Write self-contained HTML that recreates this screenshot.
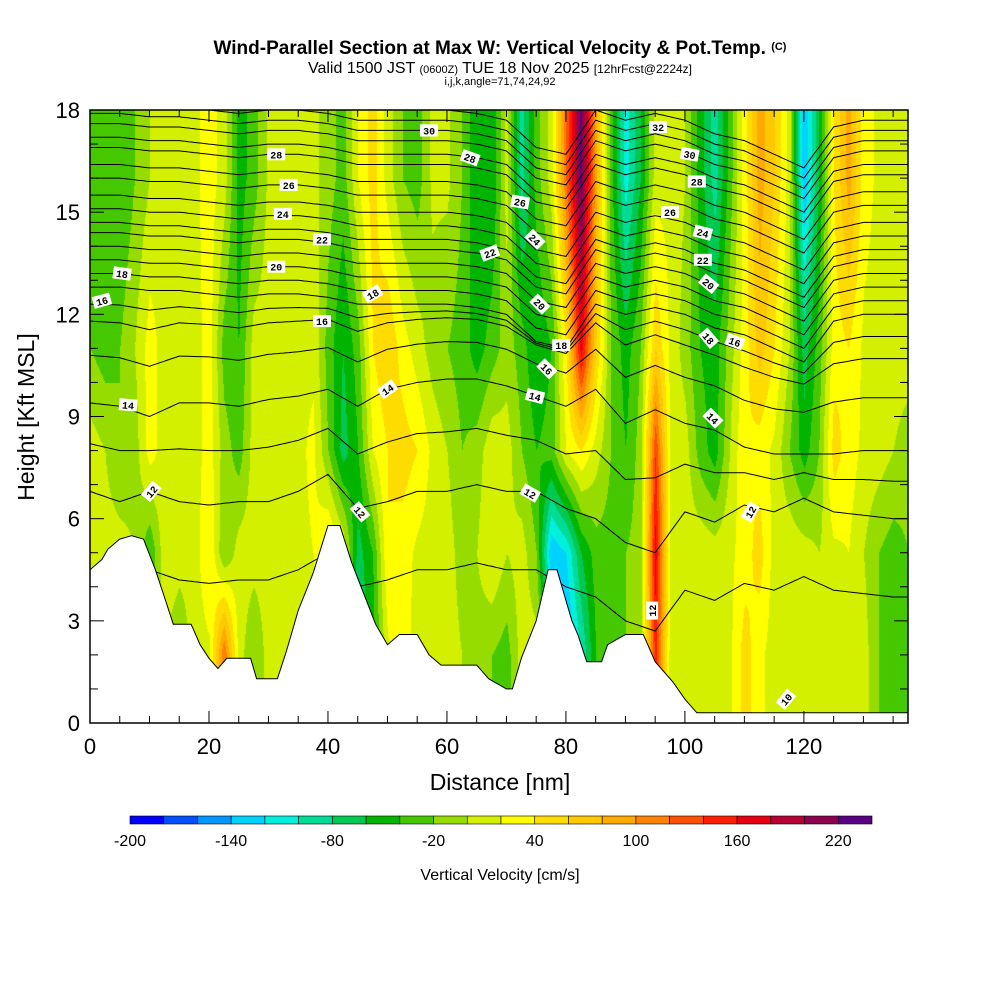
<!DOCTYPE html>
<html><head><meta charset="utf-8">
<style>
html,body{margin:0;padding:0;background:#fff;}
#wrap{position:relative;width:1000px;height:1000px;overflow:hidden;font-family:"Liberation Sans",sans-serif;}
.t{position:absolute;white-space:nowrap;color:#000;}
</style></head>
<body>
<div id="wrap">
<div class="t" style="left:0;width:1000px;top:38px;text-align:center;font-weight:bold;font-size:19px;">Wind-Parallel Section at Max W: Vertical Velocity &amp; Pot.Temp. <span style="font-size:11px;vertical-align:4px">(C)</span></div>
<div class="t" style="left:0;width:1000px;top:60px;text-align:center;font-size:16px;">Valid 1500 JST <span style="font-size:11px">(0600Z)</span> TUE 18 Nov 2025 <span style="font-size:12px">[12hrFcst@2224z]</span></div>
<div class="t" style="left:0;width:1000px;top:76px;text-align:center;font-size:11px;">i,j,k,angle=71,74,24,92</div>
<canvas id="field" width="818" height="613" style="position:absolute;left:90px;top:110px;"></canvas>
<svg id="svg" width="1000" height="1000" style="position:absolute;left:0;top:0;"></svg>
</div>
<script>
// ---- data ----
const gridNm = [0,2.5,5,7.5,10,12.5,15,17.5,20,22.5,25,27.5,30,32.5,35,37.5,40,42.5,45,47.5,50,52.5,55,57.5,60,62.5,65,67.5,70,72.5,75,77.5,80,82.5,85,87.5,90,92.5,95,97.5,100,102.5,105,107.5,110,112.5,115,117.5,120,122.5,125,127.5,130,132.5,135,137.5];
const gridKft = [2,5,8,11,16];
const w2 = [10,10,10,0,-20,0,-20,10,15,120,10,-20,10,10,10,10,15,0,-80,-50,15,30,10,15,10,0,-10,-20,-30,10,10,-60,-150,-100,-40,-30,-20,-10,150,10,10,15,10,15,50,25,10,15,15,10,10,15,10,-20,-40,-20];
const w5 = [0,10,10,0,-40,15,10,10,40,-20,10,10,10,10,15,20,50,20,-70,-40,40,30,15,10,10,-10,0,20,0,10,-20,-140,-120,-60,-30,-30,-20,-10,170,15,10,15,10,15,30,50,10,15,10,0,15,20,0,-20,-30,-20];
const w8 = [10,0,-20,-10,30,10,5,10,30,-10,-30,10,5,10,15,25,-20,-70,-40,20,40,50,40,15,0,-20,-10,15,10,-20,-40,-30,20,40,10,-20,-40,-10,140,15,10,-30,-50,0,40,30,15,-20,-50,-20,50,30,15,10,0,-10];
const w11 = [-20,-30,-20,0,30,10,5,10,30,-30,-40,10,10,10,15,15,-30,-60,-30,40,60,30,10,-10,-20,-30,-50,-30,-10,-30,-60,-40,40,170,60,-20,-50,-20,60,15,-10,-40,-50,-10,30,70,40,0,-70,-30,30,40,15,10,10,10];
const w16 = [-30,-40,-40,-20,0,10,10,15,30,10,-50,-30,5,10,10,5,-10,-30,20,50,10,-20,-30,5,5,-20,-60,-60,10,-90,-30,10,120,230,90,-30,-110,-60,10,15,0,-50,-90,-30,30,90,60,10,-140,-60,40,90,30,15,15,10];
const cbLevels = [-200,-180,-160,-140,-120,-100,-80,-60,-40,-20,0,20,40,60,80,100,120,140,160,180,200,220,240];
const cbColors = ["#0000ff","#0050ff","#0096ff","#00d2ff","#00f0dc","#00dc96","#00c850","#00b400","#46c800","#96dc00","#d2f000","#ffff00","#ffdc00","#ffc800","#ffaa00","#ff8200","#ff5000","#ff1e00","#e60014","#b40032","#8c0050","#5a0082"];
const cbTickLabels = [-200,-140,-80,-20,40,100,160,220];
const terrNm  = [0,2,3,5,7,9,11,12.5,14,17,18.5,20,21.5,23,25,27,28,30,31.5,33,35,37.5,40,42,44,46,48,50,52,55,57,59,62,65,67,70,71,72.5,75,77,78.5,80,81,82,83.5,86,87,90,93,95,96,98,100,102,137.5];
const terrKft = [4.5,4.8,5.1,5.4,5.5,5.4,4.5,3.7,2.9,2.9,2.3,1.9,1.6,1.9,1.9,1.9,1.3,1.3,1.3,2.1,3.3,4.4,5.8,5.8,4.7,3.8,2.9,2.3,2.6,2.6,2.0,1.7,1.7,1.7,1.3,1.0,1.0,1.9,3.0,4.5,4.5,3.6,3.0,2.6,1.8,1.8,2.3,2.6,2.6,1.8,1.6,1.2,0.7,0.3,0.3];
const thetaLevels = [11,12,13,14,15,16,17,18,19,20,21,22,23,24,25,26,27,28,29,30,31,32,33];
const thetaBase   = [4.5,6.8,8.3,9.6,10.9,11.8,12.2,12.6,13.0,13.4,13.8,14.2,14.5,14.9,15.3,15.8,16.2,16.7,17.0,17.4,17.7,18.0,18.3];
const dispNm  = [0,5,10,15,20,25,30,35,40,45,50,55,60,65,70,75,80,85,90,95,100,105,110,115,120,125,130,135,137.5];
const dispLow = [0,-0.3,0,-0.3,-0.4,-0.3,-0.3,0,0.5,-0.5,-0.3,0,0,0.2,0,0,-0.5,-0.8,-1.5,-1.8,-0.6,-0.9,-0.4,-0.6,-0.2,-0.6,-0.7,-0.8,-0.8];
const dispMid = [-0.2,-0.3,-0.6,-0.2,-0.2,-0.3,-0.1,0,0.2,-0.3,0.2,0.4,0.5,0.5,0.3,0,-0.3,0.2,-0.8,-0.4,-0.8,-1.0,-1.5,-1.7,-1.7,-1.7,-1.6,-1.6,-1.6];
const dispUp  = [0.2,0.2,0.1,0.1,0,-0.1,0,0,-0.1,-0.3,-0.3,-0.3,-0.3,-0.4,-0.6,-1.4,-1.6,-0.3,-0.6,-0.4,-0.6,-1.0,-1.2,-1.6,-2.0,-0.8,-0.6,-0.6,-0.6];
const labelText = ["30","28","26","24","22","20","18","16","16","14","14","18","12","12","30","28","26","22","24","20","18","16","14","12","32","30","28","26","24","22","20","18","16","14","12","12","10"];
const labelNm   = [57,31.3,33.4,32.4,39,31.3,5.4,2,39,6.4,50,47.5,10.3,45.4,57,63.9,72.3,67.2,74.8,75.6,79.2,76.8,74.8,74,95.5,100.8,102,97.5,103,103,104,104,108.4,104.7,111,94.5,117];
const labelKft  = [17.4,16.7,15.8,14.95,14.2,13.4,13.2,12.4,11.8,9.34,9.8,12.6,6.8,6.2,17.4,16.6,15.3,13.8,14.2,12.3,11.1,10.4,9.6,6.75,17.5,16.7,15.9,15.0,14.4,13.6,12.9,11.3,11.2,8.95,6.2,3.3,0.7];
const labelAng  = [0,0,0,0,0,0,8,-15,0,5,-35,-30,-50,50,0,20,10,-20,45,45,0,45,15,30,0,10,0,0,15,0,40,50,20,45,-60,-90,-50];
const xTicks = [0,20,40,60,80,100,120];
const yTicks = [0,3,6,9,12,15,18];

// ---- axes ----
const NMMAX=137.5, KMAX=18, L=90, T=110, W=818, H=613;
function X(nm){return L+nm*W/NMMAX;}
function Y(k){return T+H-k*H/KMAX;}
function interp(xs,ys,x){
  if(x<=xs[0])return ys[0];
  for(let i=1;i<xs.length;i++){if(x<=xs[i]){const f=(x-xs[i-1])/(xs[i]-xs[i-1]);return ys[i-1]+f*(ys[i]-ys[i-1]);}}
  return ys[ys.length-1];
}
const NS='http://www.w3.org/2000/svg';
const svg=document.getElementById('svg');
function mk(tag,attrs,parent){const e=document.createElementNS(NS,tag);for(const k in attrs)e.setAttribute(k,attrs[k]);(parent||svg).appendChild(e);return e;}

// ---- field ----
(function(){
  const cv=document.getElementById('field'),ctx=cv.getContext('2d');
  const img=ctx.createImageData(W,H),d=img.data;
  const rows=[w2,w5,w8,w11,w16];
  const rgb=cbColors.map(c=>[parseInt(c.substr(1,2),16),parseInt(c.substr(3,2),16),parseInt(c.substr(5,2),16)]);
  const colVals=[];
  for(let px=0;px<W;px++){const nm=px*NMMAX/W;colVals.push(rows.map(r=>interp(gridNm,r,nm)));}
  for(let py=0;py<H;py++){
    const k=(H-py)*KMAX/H;
    for(let px=0;px<W;px++){
      let v=interp(gridKft,colVals[px],k);
      if(!isFinite(v))v=10;
      let idx=Math.floor((v-cbLevels[0])/20);idx=Math.max(0,Math.min(rgb.length-1,idx));
      const o=(py*W+px)*4;d[o]=rgb[idx][0];d[o+1]=rgb[idx][1];d[o+2]=rgb[idx][2];d[o+3]=255;
    }
  }
  ctx.putImageData(img,0,0);
})();

// ---- theta contours ----
const gC=mk('g',{});


thetaLevels.forEach((lev,i)=>{
  let pts=[];
  for(let nm=0;nm<=NMMAX+0.01;nm+=0.5){
    const lo=interp(dispNm,dispLow,nm),mi=interp(dispNm,dispMid,nm),up=interp(dispNm,dispUp,nm);
    let dd;
    if(lev<=12)dd=lo;else if(lev<=14)dd=lo+(mi-lo)*(lev-12)/2;else if(lev<=18)dd=mi+(up-mi)*(lev-14)/4;else dd=up;
    const h=Math.min(KMAX,thetaBase[i]+dd);
    pts.push(X(nm).toFixed(1)+','+Y(h).toFixed(1));
  }
  const p=mk('polyline',{points:pts.join(' '),fill:'none',stroke:'#000','stroke-width':1},gC);
  
  
});

// ---- terrain ----
let tp=[X(0)+','+Y(0)];
terrNm.forEach((nm,i)=>tp.push(X(nm).toFixed(1)+','+Y(terrKft[i]).toFixed(1)));
tp.push(X(NMMAX)+','+Y(0));
const terr=mk('polygon',{points:tp.join(' '),fill:'#fff',stroke:'#000','stroke-width':1});



// ---- contour labels ----
const gL=mk('g',{});


labelText.forEach((t,i)=>{
  const x=X(labelNm[i]),y=Y(labelKft[i]);
  const g=mk('g',{transform:`translate(${x.toFixed(1)},${y.toFixed(1)}) rotate(${labelAng[i]})`},gL);
  
  
  mk('rect',{x:-9,y:-6,width:18,height:12,fill:'#fff'},g);
  const tx=mk('text',{x:0,y:4,'text-anchor':'middle','font-size':10,'font-weight':'bold','font-family':'Liberation Mono, monospace'},g);
  tx.textContent=t;
});

// ---- frame & ticks ----
const frame=mk('rect',{x:L,y:T,width:W,height:H,fill:'none',stroke:'#000','stroke-width':1.5});


const gT=mk('g',{stroke:'#000','stroke-width':1});


for(let nm=0;nm<=NMMAX;nm+=5){const x=X(nm),len=(nm%20===0)?12:7;
  mk('line',{x1:x,y1:T+H,x2:x,y2:T+H-len},gT);mk('line',{x1:x,y1:T,x2:x,y2:T+len},gT);}
for(let k=0;k<=KMAX;k+=1){const y=Y(k),len=(k%3===0)?14:8;
  mk('line',{x1:L,y1:y,x2:L+len,y2:y},gT);mk('line',{x1:L+W,y1:y,x2:L+W-len,y2:y},gT);}
xTicks.forEach(v=>{const t=mk('text',{x:X(v),y:T+H+31,'text-anchor':'middle','font-size':22,'font-family':'Liberation Sans, sans-serif'});
  
  
  t.textContent=v;});
yTicks.forEach(v=>{const t=mk('text',{x:L-10,y:Y(v)+8,'text-anchor':'end','font-size':22,'font-family':'Liberation Sans, sans-serif'});
  
  
  t.textContent=v;});
const xt=mk('text',{x:500,y:790,'text-anchor':'middle','font-size':23,'font-family':'Liberation Sans, sans-serif'});


xt.textContent='Distance [nm]';
const yt=mk('text',{x:0,y:0,transform:'translate(34,417) rotate(-90)','text-anchor':'middle','font-size':23,'font-family':'Liberation Sans, sans-serif'});


yt.textContent='Height [Kft MSL]';

// ---- colorbar ----
const gB=mk('g',{});


const cbX0=130,cbX1=872,cbY=816,cbH=8;
const cbW=(cbX1-cbX0)/cbColors.length;
function CB(v){return cbX0+(v-cbLevels[0])/(cbLevels[cbLevels.length-1]-cbLevels[0])*(cbX1-cbX0);}
cbColors.forEach((c,i)=>{const r=mk('rect',{x:CB(cbLevels[i]),y:cbY,width:cbW,height:cbH,fill:c,stroke:'#000','stroke-width':0.6},gB);
  
  });
cbTickLabels.forEach(v=>{const t=mk('text',{x:CB(v),y:846,'text-anchor':'middle','font-size':16,'font-family':'Liberation Sans, sans-serif'},gB);
  
  
  t.textContent=v;});
const cbt=mk('text',{x:500,y:880,'text-anchor':'middle','font-size':16,'font-family':'Liberation Sans, sans-serif'},gB);


cbt.textContent='Vertical Velocity [cm/s]';
</script>
</body></html>
